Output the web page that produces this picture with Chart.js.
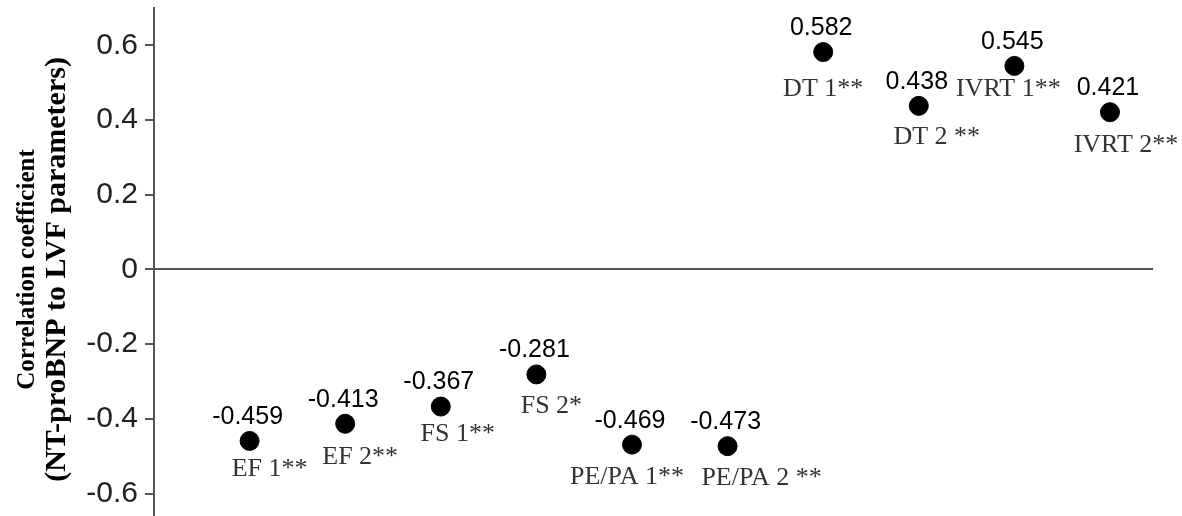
<!DOCTYPE html>
<html>
<head>
<meta charset="utf-8">
<script src="https://cdn.jsdelivr.net/npm/chart.js@4"></script>
<style>
    body { margin: 0; background: #fff; }
    #wrap { width: 1182px; height: 516px; }
</style>
</head>
<body>
<div id="wrap"><canvas id="corrChart"></canvas></div>
<script>
// data
const categories = ["EF 1**", "EF 2**", "FS 1**", "FS 2*", "PE/PA 1**", "PE/PA 2 **", "DT 1**", "DT 2 **", "IVRT 1**", "IVRT 2**"];
const coefficients = [-0.459, -0.413, -0.367, -0.281, -0.469, -0.473, 0.582, 0.438, 0.545, 0.421];
const yTicks = [-0.6, -0.4, -0.2, 0, 0.2, 0.4, 0.6];
const yTickLabels = ["-0.6", "-0.4", "-0.2", "0", "0.2", "0.4", "0.6"];
const yTitle = ["Correlation coefficient", "(NT-proBNP to LVF parameters)"];

// where each category name sits relative to its point (px)
const nameNudge = [[20, 28], [15, 33], [17, 28], [15, 32], [-5, 33], [34, 32], [0, 37], [18, 31], [-6, 23], [16, 33]];

const points = coefficients.map((v, i) => ({ x: i + 1, y: v }));

// draws the value above and the name below each point
const pointLabels = {
    id: "pointLabels",
    afterDatasetsDraw(chart) {
        const c = chart.ctx;
        const meta = chart.getDatasetMeta(0);
        c.save();
        c.textAlign = "center";
        c.textBaseline = "middle";
        meta.data.forEach((pt, i) => {
            c.fillStyle = "#000";
            c.font = "25px 'Liberation Sans', Arial, sans-serif";
            c.fillText(coefficients[i].toFixed(3), pt.x - 2, pt.y - 24);
            c.fillStyle = "#333";
            c.font = "26px 'Liberation Serif', 'Times New Roman', serif";
            c.fillText(categories[i], pt.x + nameNudge[i][0], pt.y + nameNudge[i][1]);
        });
        c.restore();
    },
};

// rotated two-line axis title, second line set larger like the original
const axisTitle = {
    id: "axisTitle",
    afterDraw(chart) {
        const c = chart.ctx;
        const yMid = chart.scales.y.getPixelForValue(0);
        c.save();
        c.fillStyle = "#000";
        c.textAlign = "center";
        c.textBaseline = "middle";
        c.translate(28, yMid);
        c.rotate(-Math.PI / 2);
        c.font = "bold 25px 'Liberation Serif', 'Times New Roman', serif";
        c.fillText(yTitle[0], 0, 0);
        c.font = "bold 30px 'Liberation Serif', 'Times New Roman', serif";
        c.fillText(yTitle[1], 0, 29);
        c.restore();
    },
};

new Chart(document.getElementById("corrChart"), {
    type: "scatter",
    data: {
        datasets: [
            {
                data: points,
                backgroundColor: "#000",
                borderColor: "#000",
                pointRadius: 9.5,
                pointHoverRadius: 9.5,
            },
        ],
    },
    options: {
        responsive: true,
        maintainAspectRatio: false,
        animation: false,
        layout: { autoPadding: false, padding: { top: 8, right: 29, bottom: 0, left: 0 } },
        plugins: {
            legend: { display: false },
            tooltip: { enabled: false },
        },
        scales: {
            x: {
                type: "linear",
                display: false,
                min: 0,
                max: 10.45,
            },
            y: {
                min: -0.66,
                max: 0.7,
                afterBuildTicks: (scale) => {
                    scale.ticks = yTicks.map((v) => ({ value: v }));
                },
                afterFit: (scale) => {
                    scale.width = 154;
                    scale.paddingTop = 0;
                    scale.paddingBottom = 0;
                },
                ticks: {
                    padding: 7,
                    color: "#222",
                    font: { family: "'Liberation Sans', Arial, sans-serif", size: 30 },
                    callback: (v) => yTickLabels[yTicks.indexOf(v)],
                },
                grid: {
                    color: (ctx) => (ctx.tick && ctx.tick.value === 0 ? "#555" : "rgba(0,0,0,0)"),
                    lineWidth: 2,
                    tickColor: "#555",
                    tickLength: 9,
                },
                border: { display: true, color: "#555", width: 2 },
            },
        },
    },
    plugins: [pointLabels, axisTitle],
});
</script>
</body>
</html>
